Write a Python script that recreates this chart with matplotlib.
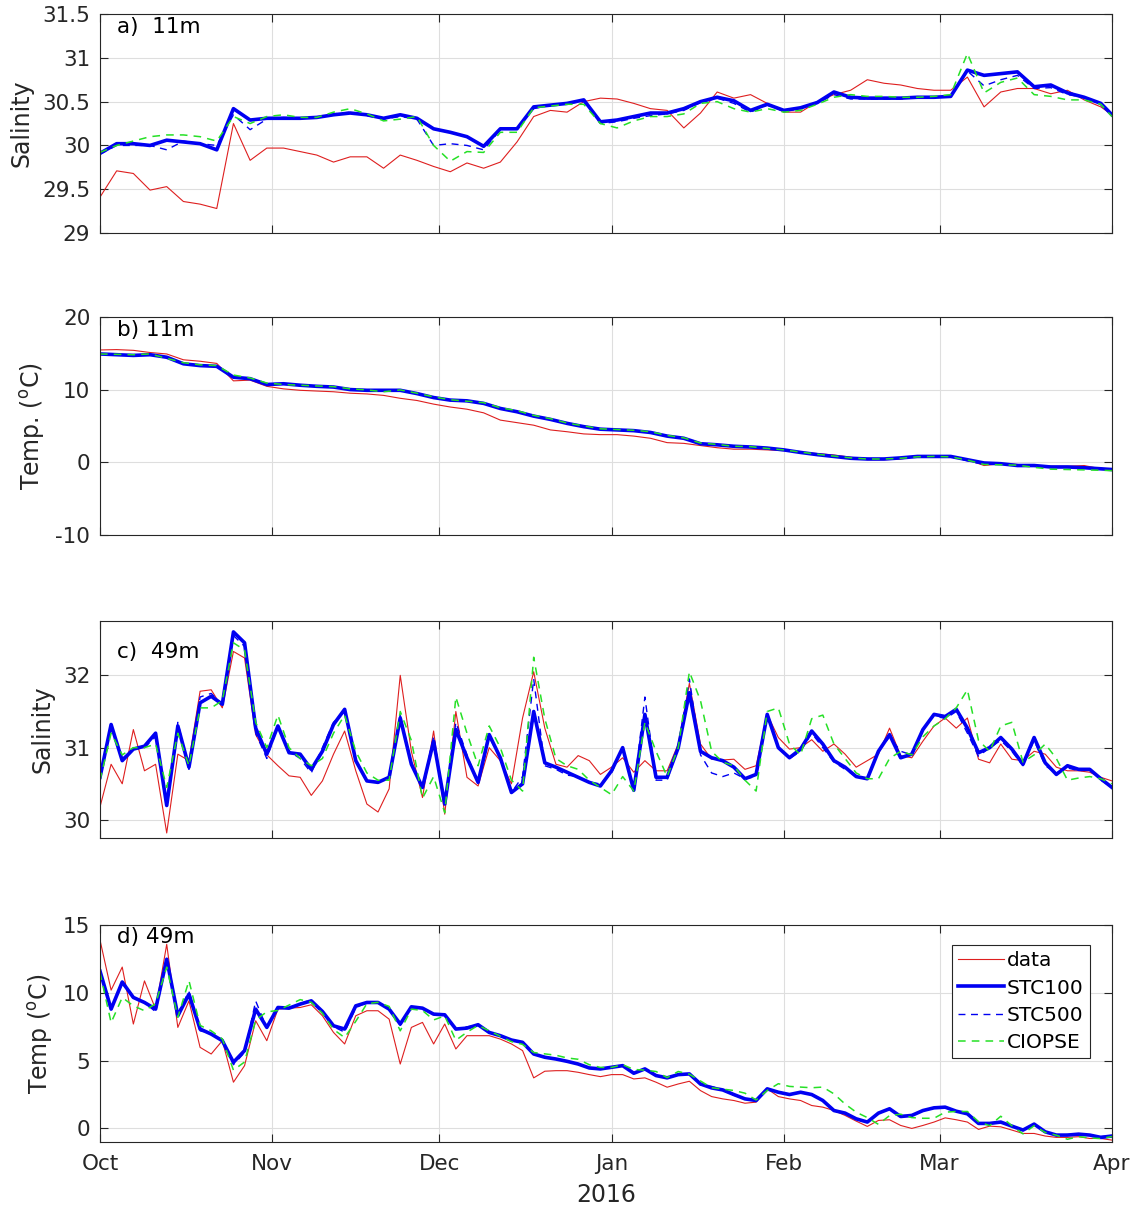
import numpy as np
import matplotlib
matplotlib.use("Agg")
from matplotlib import pyplot as plt
from matplotlib.ticker import FormatStrFormatter

# days since 1 Oct 2015 (panel a/b sampled every 3 days, c/d every 2 days)
days_ab = np.r_[np.arange(0, 181, 3), 182]
days_cd = np.arange(0, 183, 2)
month_days = [0, 31, 61, 92, 123, 151, 182]
month_labels = ['Oct', 'Nov', 'Dec', 'Jan', 'Feb', 'Mar', 'Apr']

# a) salinity 11m
sal11_data = [29.41, 29.71, 29.68, 29.49, 29.53, 29.36, 29.33, 29.28, 30.25, 29.83, 29.97, 29.97, 29.93, 29.89, 29.81, 29.87,
              29.87, 29.74, 29.89, 29.83, 29.76, 29.70, 29.80, 29.74, 29.81, 30.04, 30.33, 30.40, 30.38, 30.50, 30.54,
              30.53, 30.48, 30.42, 30.40, 30.2, 30.37, 30.61, 30.54, 30.58, 30.48, 30.38, 30.38, 30.50, 30.58, 30.63, 30.75,
              30.71, 30.69, 30.65, 30.63, 30.63, 30.78, 30.44, 30.61, 30.65, 30.65, 30.59, 30.63, 30.52, 30.44, 30.35]
sal11_stc100 = [29.91, 30.02, 30.02, 30.0, 30.06, 30.04, 30.02, 29.95, 30.42, 30.29, 30.31, 30.31, 30.31, 30.32, 30.35, 30.37,
                30.35, 30.31, 30.35, 30.31, 30.19, 30.15, 30.10, 29.99, 30.19, 30.19, 30.44, 30.46, 30.48, 30.52, 30.27,
                30.29, 30.33, 30.37, 30.37, 30.42, 30.50, 30.55, 30.51, 30.40, 30.47, 30.40, 30.43, 30.49, 30.61, 30.55, 30.54,
                30.54, 30.54, 30.55, 30.55, 30.56, 30.86, 30.80, 30.82, 30.84, 30.67, 30.69, 30.60, 30.55, 30.48, 30.35]
sal11_stc500 = [29.9, 30.0, 30.0, 30.0, 29.95, 30.05, 30.02, 30.0, 30.35, 30.18, 30.3, 30.32, 30.31, 30.32, 30.36, 30.38,
                30.34, 30.3, 30.33, 30.3, 30.0, 30.02, 30.0, 29.95, 30.18, 30.2, 30.42, 30.46, 30.48, 30.5, 30.25,
                30.27, 30.31, 30.34, 30.36, 30.4, 30.49, 30.54, 30.48, 30.38, 30.46, 30.39, 30.42, 30.48, 30.58, 30.53, 30.53,
                30.53, 30.53, 30.55, 30.55, 30.56, 30.85, 30.68, 30.75, 30.8, 30.65, 30.66, 30.58, 30.55, 30.48, 30.34]
sal11_ciopse = [29.92, 30.0, 30.05, 30.1, 30.12, 30.12, 30.1, 30.05, 30.33, 30.25, 30.33, 30.35, 30.32, 30.32, 30.38, 30.42,
                30.36, 30.28, 30.3, 30.33, 30.0, 29.82, 29.93, 29.92, 30.15, 30.15, 30.43, 30.45, 30.47, 30.47, 30.25,
                30.2, 30.28, 30.33, 30.33, 30.36, 30.48, 30.5, 30.42, 30.38, 30.42, 30.38, 30.4, 30.47, 30.55, 30.58, 30.56,
                30.56, 30.55, 30.55, 30.56, 30.58, 31.05, 30.6, 30.72, 30.77, 30.58, 30.56, 30.52, 30.52, 30.47, 30.33]

# b) temperature 11m
temp11_data = [15.45, 15.5, 15.4, 15.1, 14.9, 14.1, 13.9, 13.6, 11.2, 11.3, 10.45, 10.1, 9.9, 9.8, 9.7, 9.5,
               9.4, 9.2, 8.8, 8.5, 8.0, 7.6, 7.3, 6.8, 5.8, 5.45, 5.1, 4.45, 4.2, 3.9, 3.8,
               3.8, 3.6, 3.3, 2.7, 2.6, 2.3, 2.0, 1.8, 1.8, 1.7, 1.6, 1.4, 1.2, 1.0, 0.7, 0.35,
               0.35, 0.45, 0.8, 0.9, 0.8, 0.35, -0.45, -0.2, -0.3, -0.55, -0.55, -0.55, -0.45, -0.9, -1.0]
temp11_stc100 = [14.9, 14.8, 14.7, 14.8, 14.45, 13.55, 13.3, 13.2, 11.7, 11.5, 10.7, 10.8, 10.6, 10.45, 10.35, 10.0,
                 9.9, 9.9, 9.9, 9.45, 8.9, 8.55, 8.45, 8.1, 7.4, 6.95, 6.35, 5.9, 5.35, 4.9, 4.55,
                 4.45, 4.35, 4.1, 3.6, 3.3, 2.55, 2.4, 2.2, 2.1, 1.95, 1.7, 1.35, 1.05, 0.8, 0.55, 0.45,
                 0.45, 0.6, 0.8, 0.8, 0.8, 0.35, -0.1, -0.2, -0.45, -0.45, -0.65, -0.65, -0.75, -0.9, -1.0]
temp11_stc500 = [14.85, 14.8, 14.75, 14.8, 14.4, 13.6, 13.35, 13.15, 11.8, 11.4, 10.75, 10.8, 10.55, 10.5, 10.3, 10.05,
                 9.9, 9.85, 9.95, 9.4, 8.95, 8.5, 8.5, 8.05, 7.45, 6.9, 6.4, 5.85, 5.4, 4.85, 4.6,
                 4.4, 4.35, 4.05, 3.65, 3.25, 2.6, 2.35, 2.25, 2.05, 1.95, 1.75, 1.3, 1.1, 0.75, 0.55, 0.5,
                 0.4, 0.6, 0.85, 0.75, 0.75, 0.2, -0.3, -0.25, -0.4, -0.5, -0.6, -0.7, -0.75, -0.85, -1.0]
temp11_ciopse = [14.9, 14.85, 14.8, 14.9, 14.3, 13.7, 13.4, 13.3, 12.0, 11.6, 10.9, 10.7, 10.6, 10.5, 10.4, 10.1,
                 9.95, 9.7, 9.95, 9.5, 9.0, 8.6, 8.4, 8.2, 7.5, 7.1, 6.45, 6.0, 5.4, 5.0, 4.6,
                 4.5, 4.4, 4.2, 3.7, 3.35, 2.65, 2.45, 2.2, 2.15, 1.9, 1.7, 1.4, 1.1, 0.85, 0.6, 0.45,
                 0.45, 0.55, 0.75, 0.8, 0.75, 0.3, -0.3, -0.35, -0.4, -0.7, -0.95, -1.0, -1.05, -1.1, -1.15]

# c) salinity 49m
sal49_data = [30.18, 30.77, 30.5, 31.25, 30.68, 30.77, 29.82, 30.91, 30.82, 31.78, 31.8, 31.55, 32.33, 32.24, 31.18, 30.9,
              30.75, 30.61, 30.59, 30.34, 30.54, 30.91, 31.23, 30.68, 30.22, 30.11, 30.43, 32.0, 30.95, 30.31, 31.23,
              30.08, 31.5, 30.59, 30.47, 31.0, 30.82, 30.5, 31.41, 32.05, 31.27, 30.77, 30.73, 30.89, 30.82, 30.63,
              30.73, 30.86, 30.66, 30.82, 30.68, 30.68, 31.05, 31.89, 31.05, 30.84, 30.83, 30.84, 30.7, 30.75, 31.46,
              31.14, 30.98, 31.0, 31.11, 30.95, 31.05, 30.91, 30.73, 30.82, 30.91, 31.27, 30.89, 30.86, 31.09, 31.3,
              31.41, 31.27, 31.41, 30.84, 30.79, 31.05, 30.84, 30.82, 30.95, 30.91, 30.73, 30.68, 30.68, 30.66, 30.59, 30.54]
sal49_stc100 = [30.59, 31.32, 30.82, 30.98, 31.02, 31.2, 30.2, 31.3, 30.73, 31.62, 31.71, 31.6, 32.6, 32.45, 31.27, 30.91,
                31.3, 30.93, 30.91, 30.70, 30.95, 31.32, 31.53, 30.82, 30.54, 30.52, 30.59, 31.41, 30.77, 30.45, 31.09,
                30.22, 31.25, 30.86, 30.52, 31.18, 30.86, 30.38, 30.5, 31.50, 30.79, 30.73, 30.66, 30.59, 30.52, 30.47,
                30.68, 31.0, 30.41, 31.46, 30.59, 30.59, 31.0, 31.76, 30.95, 30.86, 30.82, 30.73, 30.57, 30.63, 31.46,
                31.0, 30.86, 30.98, 31.23, 31.05, 30.82, 30.73, 30.6, 30.57, 30.95, 31.18, 30.86, 30.91, 31.25, 31.46,
                31.43, 31.53, 31.27, 30.93, 31.0, 31.14, 30.98, 30.77, 31.14, 30.79, 30.63, 30.75, 30.70, 30.70, 30.57, 30.45]
sal49_stc500 = [30.59, 31.3, 30.85, 30.98, 31.0, 31.15, 30.2, 31.35, 30.7, 31.7, 31.75, 31.6, 32.55, 32.4, 31.2, 30.85,
                31.3, 30.95, 30.85, 30.65, 31.0, 31.35, 31.5, 30.8, 30.54, 30.52, 30.6, 31.45, 30.8, 30.45, 31.15,
                30.22, 31.35, 30.9, 30.5, 31.15, 30.85, 30.38, 30.6, 31.95, 30.75, 30.7, 30.62, 30.6, 30.52, 30.5,
                30.65, 31.0, 30.4, 31.7, 30.55, 30.55, 31.0, 31.95, 30.9, 30.65, 30.6, 30.65, 30.57, 30.6, 31.45,
                31.0, 30.85, 30.95, 31.2, 31.0, 30.8, 30.7, 30.6, 30.56, 30.95, 31.15, 30.95, 30.9, 31.25, 31.45,
                31.4, 31.5, 31.2, 30.88, 31.0, 31.1, 30.95, 30.75, 31.1, 30.75, 30.65, 30.72, 30.68, 30.7, 30.55, 30.45]
sal49_ciopse = [30.55, 31.2, 30.9, 31.0, 31.0, 31.05, 30.45, 31.2, 30.75, 31.55, 31.55, 31.65, 32.45, 32.35, 31.35, 31.0,
                31.45, 31.0, 30.85, 30.75, 30.85, 31.2, 31.45, 30.95, 30.65, 30.55, 30.55, 31.5, 31.1, 30.3, 30.6,
                30.1, 31.7, 31.2, 30.75, 31.3, 31.0, 30.55, 30.4, 32.25, 31.4, 30.85, 30.75, 30.7, 30.55, 30.45,
                30.35, 30.6, 30.4, 31.35, 30.95, 30.6, 31.0, 32.05, 31.65, 30.95, 30.8, 30.75, 30.55, 30.4, 31.5,
                31.55, 31.05, 30.9, 31.4, 31.45, 31.05, 30.85, 30.65, 30.57, 30.57, 30.85, 30.95, 30.9, 31.15, 31.3,
                31.4, 31.55, 31.8, 31.1, 30.95, 31.3, 31.35, 30.8, 30.9, 31.05, 30.85, 30.55, 30.58, 30.6, 30.57, 30.5]

# d) temperature 49m
temp49_data = [13.9, 10.2, 11.9, 7.7, 10.88, 8.8, 13.58, 7.45, 9.41, 5.98, 5.49, 6.47, 3.41, 4.63, 7.94, 6.47,
               8.8, 8.87, 8.92, 9.12, 8.31, 7.08, 6.23, 8.31, 8.68, 8.68, 8.06, 4.75, 7.45, 7.82, 6.23,
               7.7, 5.86, 6.84, 6.84, 6.84, 6.59, 6.23, 5.74, 3.73, 4.22, 4.26, 4.26, 4.14, 3.97, 3.82,
               3.97, 3.97, 3.65, 3.73, 3.41, 3.04, 3.28, 3.48, 2.79, 2.35, 2.18, 2.06, 1.86, 1.94, 2.92,
               2.35, 2.18, 2.06, 1.69, 1.57, 1.32, 0.96, 0.54, 0.15, 0.59, 0.64, 0.22, 0.0, 0.22, 0.47,
               0.78, 0.64, 0.47, -0.07, 0.17, 0.12, -0.12, -0.37, -0.37, -0.56, -0.66, -0.66, -0.61, -0.74, -0.74, -0.86]
temp49_stc100 = [11.6, 8.8, 10.8, 9.66, 9.29, 8.8, 12.48, 8.31, 9.9, 7.33, 6.96, 6.47, 4.88, 5.74, 8.8, 7.45,
                 8.92, 8.87, 9.17, 9.41, 8.63, 7.57, 7.33, 9.04, 9.29, 9.29, 8.8, 7.7, 8.97, 8.87, 8.43,
                 8.38, 7.33, 7.4, 7.65, 7.08, 6.84, 6.52, 6.35, 5.49, 5.25, 5.12, 4.95, 4.75, 4.46, 4.39,
                 4.51, 4.63, 4.07, 4.39, 3.9, 3.73, 3.97, 4.02, 3.28, 2.99, 2.84, 2.5, 2.18, 2.06, 2.92,
                 2.67, 2.5, 2.67, 2.5, 2.06, 1.32, 1.13, 0.71, 0.47, 1.13, 1.45, 0.88, 0.96, 1.32, 1.52,
                 1.57, 1.27, 1.08, 0.37, 0.37, 0.47, 0.17, -0.12, 0.32, -0.25, -0.49, -0.49, -0.42, -0.49, -0.66, -0.56]
temp49_stc500 = [11.5, 8.9, 10.7, 9.6, 9.3, 8.6, 12.3, 8.5, 10.1, 7.2, 7.0, 6.6, 4.7, 5.6, 9.4, 7.4,
                 8.9, 8.9, 9.2, 9.5, 8.6, 7.5, 7.1, 8.9, 9.3, 9.3, 8.8, 7.6, 8.9, 8.8, 8.45,
                 8.3, 7.3, 7.5, 7.6, 7.1, 6.8, 6.5, 6.35, 5.5, 5.3, 5.1, 4.95, 4.75, 4.5, 4.4,
                 4.55, 4.6, 4.1, 4.35, 3.9, 3.75, 3.95, 4.0, 3.2, 3.1, 2.85, 2.45, 2.2, 2.05, 2.9,
                 2.7, 2.5, 2.65, 2.5, 2.1, 1.3, 1.1, 0.7, 0.5, 1.1, 1.45, 0.95, 0.95, 1.3, 1.5,
                 1.55, 1.3, 1.05, 0.4, 0.35, 0.45, 0.2, -0.15, 0.3, -0.3, -0.5, -0.45, -0.45, -0.5, -0.6, -0.55]
temp49_ciopse = [11.5, 7.8, 9.66, 9.04, 8.68, 9.2, 11.9, 8.2, 10.9, 7.6, 7.2, 6.6, 4.3, 4.9, 8.0, 8.6,
                 8.7, 9.1, 9.5, 9.3, 8.5, 7.3, 6.7, 7.9, 9.2, 9.3, 9.0, 7.2, 8.8, 8.7, 8.0,
                 8.3, 6.5, 7.1, 7.6, 7.2, 6.8, 6.4, 6.2, 5.6, 5.5, 5.4, 5.2, 5.1, 4.7, 4.5,
                 4.5, 4.7, 4.35, 4.3, 4.2, 3.75, 4.2, 4.0, 3.5, 3.0, 2.9, 2.8, 2.6, 2.1, 2.8,
                 3.3, 3.1, 3.05, 3.0, 3.05, 2.55, 1.8, 1.2, 0.8, 0.3, 0.95, 1.05, 0.8, 0.75, 0.75,
                 1.2, 1.25, 1.25, 0.5, 0.2, 0.9, 0.2, -0.4, 0.2, -0.3, -0.5, -0.8, -0.6, -0.7, -0.75, -0.6]

panels = [
    (days_ab, sal11_data, sal11_stc100, sal11_stc500, sal11_ciopse, 'Salinity', 'a)  11m', (29, 31.5), np.arange(29, 31.6, 0.5), 0.94),
    (days_ab, temp11_data, temp11_stc100, temp11_stc500, temp11_ciopse, r'Temp. ($^{\rm o}$C)', 'b) 11m', (-10, 20), [-10, 0, 10, 20], 0.94),
    (days_cd, sal49_data, sal49_stc100, sal49_stc500, sal49_ciopse, 'Salinity', 'c)  49m', (29.75, 32.75), [30, 31, 32], 0.857),
    (days_cd, temp49_data, temp49_stc100, temp49_stc500, temp49_ciopse, r'Temp ($^{\rm o}$C)', 'd) 49m', (-1, 15), [0, 5, 10, 15], 0.945),
]

red = (0.87, 0.12, 0.12)
blue = (0.0, 0.0, 0.95)
green = (0.15, 0.88, 0.15)
axcol = '#262626'

fig = plt.figure(figsize=(11.35, 12.1), dpi=100)
bottoms = [0.8074, 0.5579, 0.3074, 0.0562]
heights = [0.181, 0.1802, 0.1793, 0.1793]

for i, (x, dat, s100, s500, cio, ylab, tag, ylim, yt, ty) in enumerate(panels):
    ax = fig.add_axes([0.0881, bottoms[i], 0.8916, heights[i]])
    ax.plot(x, dat, color=red, lw=0.8, label='data')
    ax.plot(x, s100, color=blue, lw=2.6, label='STC100')
    ax.plot(x, s500, color=blue, lw=1.0, ls=(0, (5, 4)), label='STC500')
    ax.plot(x, cio, color=green, lw=1.1, ls=(0, (5, 4)), label='CIOPSE')
    ax.set_xlim(0, 182)
    ax.set_ylim(*ylim)
    ax.set_yticks(yt)
    ax.yaxis.set_major_formatter(FormatStrFormatter('%g'))
    ax.set_xticks(month_days)
    ax.grid(True, color='#dedede', lw=0.8)
    ax.set_axisbelow(True)
    ax.tick_params(direction='in', top=True, right=True, length=6, width=0.8,
                   colors=axcol, labelsize=15.5, labelcolor='#262626')
    ax.tick_params(axis='y', pad=7)
    ax.tick_params(axis='x', pad=9)
    for s in ax.spines.values():
        s.set_color(axcol)
        s.set_linewidth(0.8)
    ax.set_ylabel(ylab, fontsize=17, color='#262626', labelpad=6)
    ax.text(0.017, ty, tag, transform=ax.transAxes, fontsize=15.5, va='center')
    if i == 3:
        ax.set_xticklabels(month_labels)
        ax.set_xlabel('2016', fontsize=17, color='#262626', labelpad=6)
        leg = ax.legend(loc='upper right', bbox_to_anchor=(0.978, 0.908), borderaxespad=0,
                        fontsize=14.5, fancybox=False, framealpha=1, edgecolor='#262626',
                        handlelength=2.3, handletextpad=0.15, labelspacing=0.42, borderpad=0.3)
        leg.get_frame().set_linewidth(0.8)
    else:
        ax.set_xticklabels([])

fig.savefig('out.png', dpi=100)
